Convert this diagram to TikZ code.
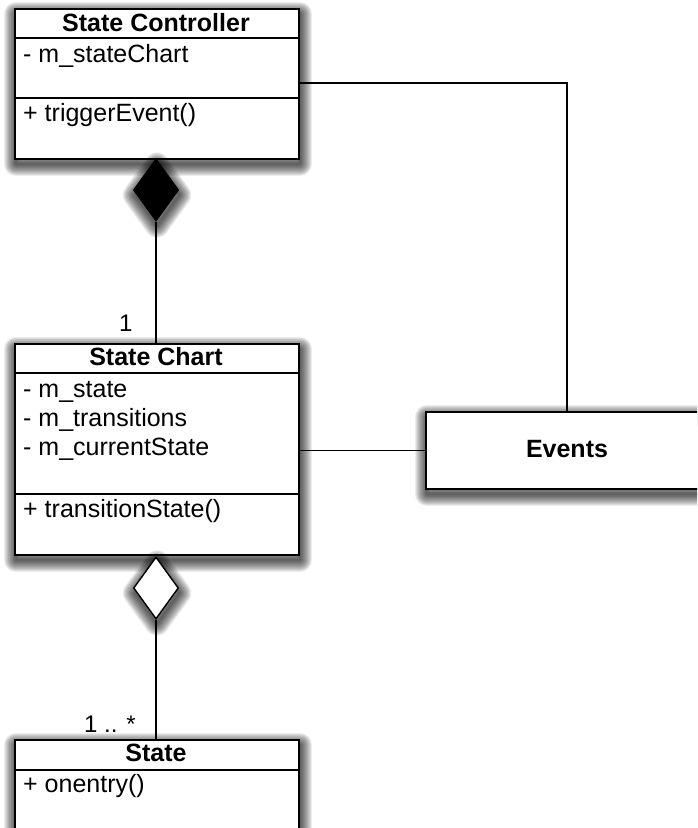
\documentclass[tikz,border=0pt]{standalone}
\usepackage{fontspec}
\setmainfont{Liberation Sans}
\usetikzlibrary{shapes.geometric}

\begin{document}
\begin{tikzpicture}[x=1pt,y=-1pt,
  glow/.style={preaction={draw=black,draw opacity=0.075,line width=#1,line join=round,
      fill=none,transform canvas={xshift=1pt,yshift=-5pt}}},
  softshadow/.style={glow=24pt,glow=22pt,glow=20pt,glow=18pt,glow=16pt,glow=14pt,
      glow=12pt,glow=10pt,glow=8pt,glow=6pt,glow=4pt,glow=2pt},
  umlbox/.style={draw,line width=1.7pt,fill=white,softshadow,
      anchor=north west,minimum width=284pt,inner sep=0pt},
  divider/.style={line width=1.5pt},
  conn/.style={line width=1.4pt},
  title/.style={font=\fontsize{25}{30}\selectfont\bfseries,anchor=base,inner sep=0pt},
  member/.style={font=\fontsize{25}{30}\selectfont,anchor=base west,inner sep=0pt},
  mult/.style={font=\fontsize{24}{29}\selectfont,anchor=base west,inner sep=0pt},
  compdiamond/.style={diamond,draw,line width=1.4pt,minimum width=45pt,
      minimum height=62pt,inner sep=0pt,softshadow},
]
\clip (0,0) rectangle (697,828);
\fill[white] (0,0) rectangle (697,828);

% class boxes
\node[umlbox,minimum height=150pt] (ctrl) at (14,8) {};
\node[umlbox,minimum height=211pt] (chart) at (14,343) {};
\node[umlbox,minimum height=130pt] (state) at (14,739) {};
\node[umlbox,minimum width=300pt,minimum height=77pt] (events) at (425,411) {};

% compartment dividers
\draw[divider] (ctrl.west |- 0,38) -- (ctrl.east |- 0,38);
\draw[divider] (ctrl.west |- 0,98) -- (ctrl.east |- 0,98);
\draw[divider] (chart.west |- 0,373) -- (chart.east |- 0,373);
\draw[divider] (chart.west |- 0,494) -- (chart.east |- 0,494);
\draw[divider] (state.west |- 0,770) -- (state.east |- 0,770);

% State Controller
\node[title] (ctrl-t) at (156,31) {State Controller};
\node[member] (ctrl-a1) at (23,62) {- m\_stateChart};
\node[member] (ctrl-o1) at (23,121) {+ triggerEvent()};

% State Chart
\node[title] (chart-t) at (156,365) {State Chart};
\node[member] (chart-a1) at (23,397) {- m\_state};
\node[member] (chart-a2) at (23,426) {- m\_transitions};
\node[member] (chart-a3) at (23,455) {- m\_currentState};
\node[member] (chart-o1) at (23,517) {+ transitionState()};

% State
\node[title] (state-t) at (156,761) {State};
\node[member] (state-o1) at (23,792) {+ onentry()};

% Events
\node[title] (events-t) at (567,457) {Events};

% composition and aggregation diamonds
\node[compdiamond,fill=black] (comp) at (156,190) {};
\node[compdiamond,fill=white] (aggr) at (156,588) {};

% connectors
\draw[conn] (comp.south) -- (chart.north -| comp.south);
\draw[conn] (aggr.south) -- (state.north -| aggr.south);
\coordinate (ctrlport) at (0,83);
\coordinate (evport) at (567,0);
\draw[conn] (ctrl.east |- ctrlport) -| (events.north -| evport);
\draw[conn] (chart.east |- events.west) -- (events.west);

% multiplicities
\node[mult] (m1) at (119,331) {1};
\node[mult] (m2) at (84,732) {1 .. *};
\end{tikzpicture}
\end{document}
